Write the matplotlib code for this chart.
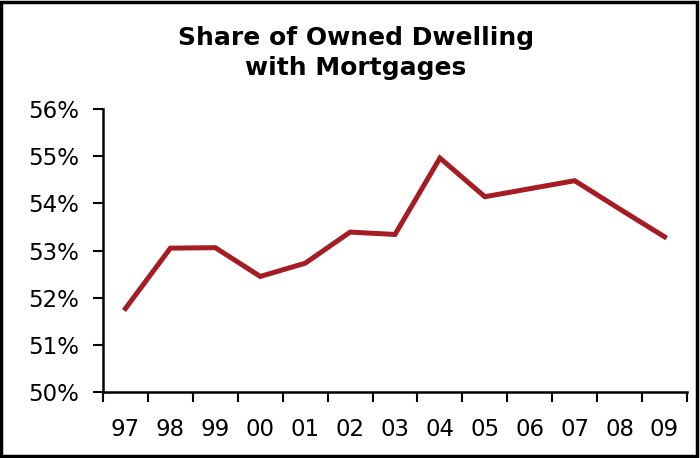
import matplotlib

# Use non-GUI backend
matplotlib.use('Agg')

import matplotlib.pyplot as plt
from matplotlib.patches import Rectangle
from matplotlib.ticker import FuncFormatter

years = ["97", "98", "99", "00", "01", "02", "03", "04", "05", "06", "07", "08", "09"]
share = [51.77, 53.05, 53.06, 52.45, 52.73, 53.39, 53.34, 54.96, 54.14, 54.31, 54.48, 53.88, 53.29]
y_ticks = [50, 51, 52, 53, 54, 55, 56]

plt.rcParams['font.family'] = ['DejaVu Sans']

fig = plt.figure(figsize=(7, 4.58), dpi=100)
ax = fig.add_axes([103 / 700, 1 - 392 / 458, 584 / 700, 283 / 458])

x = list(range(len(years)))
ax.plot(x, share, color="#A61C24", linewidth=3.6, solid_joinstyle="miter")

ax.set_xlim(-0.5, len(years) - 0.5)
ax.set_ylim(50, 56)
ax.set_yticks(y_ticks)
ax.yaxis.set_major_formatter(FuncFormatter(lambda v, p: "%d%%" % v))

# labels at category centres, tick marks at boundaries
ax.set_xticks(x)
ax.set_xticklabels(years)
ax.set_xticks([i - 0.5 for i in range(len(years) + 1)], minor=True)
ax.tick_params(axis="x", which="major", length=0, pad=19, labelsize=16.5)
ax.tick_params(axis="x", which="minor", length=7, width=1.5, direction="out")
ax.tick_params(axis="y", length=7, width=1.5, direction="out", pad=10, labelsize=16.5)

for side in ["top", "right"]:
    ax.spines[side].set_visible(False)
for side in ["left", "bottom"]:
    ax.spines[side].set_linewidth(1.8)

fig.text(356 / 700, 1 - 53 / 458, "Share of Owned Dwelling\nwith Mortgages",
         ha="center", va="center", fontsize=18, fontweight="bold", linespacing=1.36)

# frame around the whole chart
fig.patches.append(Rectangle((0.002, 0.004), 0.994, 0.992, transform=fig.transFigure,
                             fill=False, edgecolor="black", linewidth=2.5))

plt.savefig("out.png", dpi=100)
plt.close()
